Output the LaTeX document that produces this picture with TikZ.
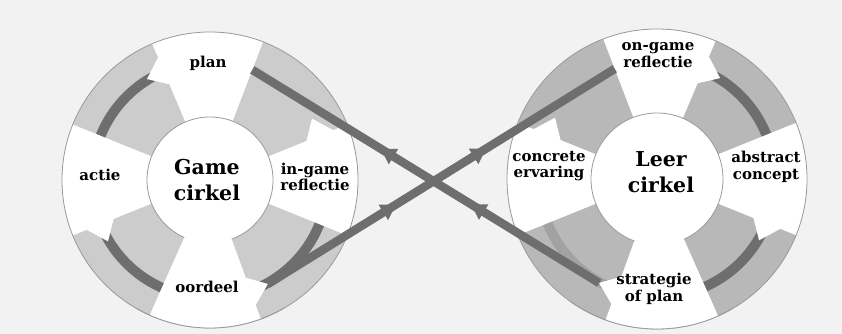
\documentclass[tikz,border=0pt]{standalone}
\usepackage{fontspec}
\setmainfont{DejaVu Serif}
\usetikzlibrary{arrows.meta,calc,decorations.markings}

\definecolor{paper}{HTML}{F2F2F2}
\definecolor{ringL}{HTML}{CCCCCC}
\definecolor{ringR}{HTML}{B8B8B8}
\definecolor{bandgray}{HTML}{6E6E6E}
\definecolor{fadegray}{HTML}{A2A2A2}
\definecolor{rimgray}{HTML}{9A9A9A}

% white label block: centre, flat-side angle, tip-side angle, tip angle, outer radius
\newcommand{\labelblock}[5]{%
  \fill[white] ($(#1)+(#2:#5)$) arc[start angle=#2, end angle=#3, radius=#5]
    -- ($(#1)+(#3:133)$) -- ($(#1)+(#4:119)$) -- ($(#1)+(#3:104)$)
    -- ($(#1)+(#3:50)$) -- ($(#1)+(#2:50)$) -- cycle;}

\begin{document}
\begin{tikzpicture}[
  x=1pt, y=1pt,
  band/.style={line width=10pt, draw=bandgray},
  fadeband/.style={line width=10pt, draw=fadegray},
  link/.style={line width=8.5pt, draw=bandgray, postaction={decorate},
    decoration={markings,
      mark=at position 0.37 with {\arrow{Triangle[length=15pt,width=17pt]}},
      mark=at position 0.63 with {\arrow{Triangle[length=15pt,width=17pt]}}}},
  rim/.style={draw=rimgray, line width=0.8pt},
  lbl/.style={font=\bfseries\fontsize{15}{16.5}\selectfont, align=center},
  title/.style={font=\bfseries\fontsize{20.5}{26}\selectfont, align=center},
]
  \useasboundingbox (0,0) rectangle (842,334);
  \fill[paper] (0,0) rectangle (842,334);
  \coordinate (cl) at (210,154);
  \coordinate (cr) at (657,155);

  % rings
  \fill[ringL] (cl) circle[radius=148];
  \fill[ringR] (cr) circle[radius=150];

  % cycle bands, game circle
  \draw[band] ($(cl)+(160:118)$) arc[start angle=160, end angle=116, radius=118];
  \draw[band] ($(cl)+(248:118)$) arc[start angle=248, end angle=205, radius=118];
  \draw[band] ($(cl)+(340:118)$) arc[start angle=340, end angle=293, radius=118];
  % cycle bands, learning circle
  \draw[band] ($(cr)+(20:118)$) arc[start angle=20, end angle=64, radius=118];
  \draw[band] ($(cr)+(-68:118)$) arc[start angle=-68, end angle=-25, radius=118];
  \draw[fadeband] ($(cr)+(-160:118)$) arc[start angle=-160, end angle=-113, radius=118];

  % label blocks
  \labelblock{cl}{69}{113}{122}{148}
  \labelblock{cl}{158}{202}{211}{148}
  \labelblock{cl}{246}{290}{299}{148}
  \labelblock{cl}{-22}{22}{31}{148}
  \labelblock{cr}{111}{67}{58}{150}
  \labelblock{cr}{22}{-22}{-31}{150}
  \labelblock{cr}{-66}{-110}{-119}{150}
  \labelblock{cr}{202}{158}{149}{150}

  % centres and rims
  \fill[white] (cl) circle[radius=63];
  \fill[white] (cr) circle[radius=66];
  \draw[rim] (cl) circle[radius=148];
  \draw[rim] (cl) circle[radius=63];
  \draw[rim] (cr) circle[radius=150];
  \draw[rim] (cr) circle[radius=66];

  % crossing links
  \coordinate (plan-in) at ($(cl)+(69:118)$);
  \coordinate (oordeel-out) at ($(cl)+(-61:119)$);
  \coordinate (ongame-in) at ($(cr)+(111:118)$);
  \coordinate (strategie-out) at ($(cr)+(-119:119)$);
  \draw[link] (strategie-out) -- (plan-in);
  \draw[link] (oordeel-out) -- (ongame-in);
  \labelblock{cl}{246}{290}{299}{148}
  \labelblock{cr}{-66}{-110}{-119}{150}
  \draw[rim] ($(cl)+(240:148)$) arc[start angle=240, end angle=300, radius=148];
  \draw[rim] ($(cr)+(-125:150)$) arc[start angle=-125, end angle=-60, radius=150];

  % texts
  \node[title] (game) at (207,154) {Game\\cirkel};
  \node[lbl] (plan) at (208,271) {plan};
  \node[lbl] (actie) at (100,159) {actie};
  \node[lbl] (ingame) at (315,157) {in-game\\reflectie};
  \node[lbl] (oordeel) at (207,47) {oordeel};
  \node[title] (leer) at (661,162) {Leer\\cirkel};
  \node[lbl] (ongame) at (658,279) {on-game\\reflectie};
  \node[lbl] (concrete) at (549,168) {concrete\\ervaring};
  \node[lbl] (abstract) at (766,167) {abstract\\concept};
  \node[lbl] (strategie) at (654,45) {strategie\\of plan};
\end{tikzpicture}
\end{document}
